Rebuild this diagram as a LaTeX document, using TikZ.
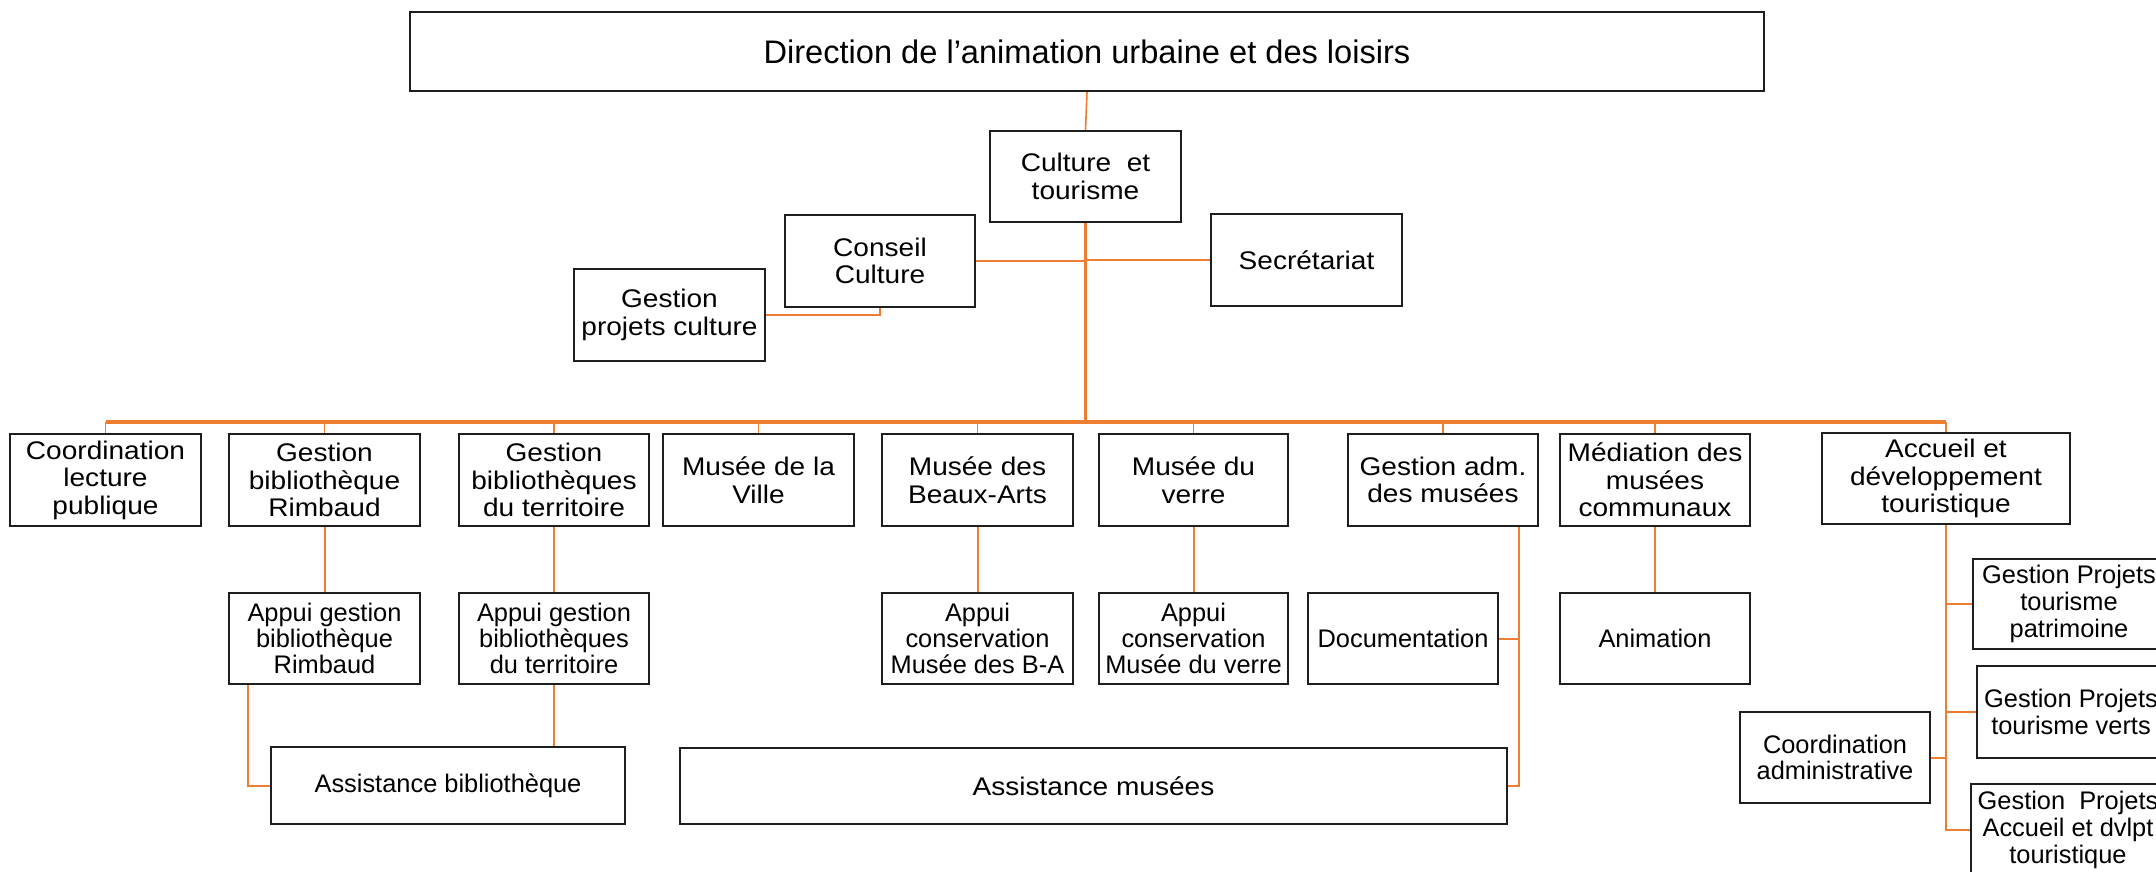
\documentclass[tikz,border=0pt]{standalone}
\usepackage{fontspec}
\setmainfont{Liberation Sans}
\newfontfamily\widefont[FakeStretch=1.1]{Liberation Sans}
\definecolor{org}{RGB}{237,125,49}
\definecolor{bord}{RGB}{30,30,30}
\begin{document}
\begin{tikzpicture}[x=1pt,y=-1pt,
  bx/.style 2 args={draw=bord, line width=2pt, fill=white, inner sep=0pt, align=center,
     minimum width=#1pt, minimum height=#2pt, font=\widefont\fontsize{25.5}{27.6}\selectfont},
  sm/.style={font=\fontsize{25.4}{26.6}\selectfont},
  smt/.style={font=\fontsize{25.4}{25.8}\selectfont},
  ttl/.style={font=\fontsize{32.6}{38}\selectfont},
  ln/.style={draw=org, line width=2pt},
  thin/.style={draw=org, line width=1.6pt},
  trunk/.style={draw=org, line width=3.5pt}]
\clip (0,0) rectangle (2156,871);
\fill[white] (0,0) rectangle (2156,871);

% top levels
\node[bx={1354}{79}, ttl] (dir) at (1087,51.5) {Direction de l’animation urbaine et des loisirs};
\node[bx={191}{91}] (cult) at (1085.5,176.5) {Culture~ et\\tourisme};
\node[bx={190}{92}] (conseil) at (880,261) {Conseil\\Culture};
\node[bx={191}{92}] (gpc) at (669.5,315) {Gestion\\projets culture};
\node[bx={191}{92}] (secr) at (1306.5,260) {Secrétariat};

% row 1
\node[bx={191}{92}] (clp) at (105.5,480) {Coordination\\lecture\\publique};
\node[bx={191}{92}] (gbr) at (324.5,480) {Gestion\\bibliothèque\\Rimbaud};
\node[bx={190}{92}] (gbt) at (554,480) {Gestion\\bibliothèques\\du territoire};
\node[bx={191}{92}] (mville) at (758.5,480) {Musée de la\\Ville};
\node[bx={191}{92}] (mba) at (977.5,480) {Musée des\\Beaux-Arts};
\node[bx={189}{92}] (mverre) at (1193.5,480) {Musée du\\verre};
\node[bx={190}{92}] (gadm) at (1443,480) {Gestion adm.\\des musées};
\node[bx={190}{92}] (med) at (1655,480) {Médiation des\\musées\\communaux};
\node[bx={248}{91}] (acc) at (1946,478.5) {Accueil et\\développement\\touristique};

% row 2
\node[bx={191}{91}, smt] (agbr) at (324.5,638.5) {Appui gestion\\bibliothèque\\Rimbaud};
\node[bx={190}{91}, smt] (agbt) at (554,638.5) {Appui gestion\\bibliothèques\\du territoire};
\node[bx={191}{91}, smt] (acba) at (977.5,638.5) {Appui\\conservation\\Musée des B-A};
\node[bx={189}{91}, smt] (acv) at (1193.5,638.5) {Appui\\conservation\\Musée du verre};
\node[bx={190}{91}, sm] (doc) at (1403,638.5) {Documentation};
\node[bx={190}{91}, sm] (anim) at (1655,638.5) {Animation};

% row 3
\node[bx={354}{77}, sm] (assbib) at (448,785.5) {Assistance bibliothèque};
\node[bx={827}{76}] (assmus) at (1093.5,786) {Assistance musées};

% tourism branch
\node[bx={192}{90}, sm] (gptp) at (2069,604) {Gestion Projets\\tourisme\\patrimoine};
\node[bx={188}{92}, sm] (gptv) at (2071,712) {Gestion Projets\\tourisme verts};
\node[bx={190}{91}, sm] (cadm) at (1835,757.5) {Coordination\\administrative};
\node[bx={194}{92}, sm] (gpad) at (2068,830) {Gestion~ Projets\\Accueil et dvlpt\\touristique};

\coordinate (bar) at (0,422);

% connectors
\draw[thin] (dir.south) -- (cult.north);
\draw[trunk] (cult.south) -- (cult.south |- bar);
\draw[ln] (conseil.east) -- (conseil.east -| cult.south);
\draw[ln] (secr.west) -- (secr.west -| cult.south);
\draw[ln] (conseil.south) |- (gpc.east);
\draw[trunk] (clp.north |- bar) -- (acc.north |- bar);
\foreach \n in {clp,gbr,gbt,mville,mba,mverre,gadm,med,acc}
  \draw[thin] (\n.north) -- (\n.north |- bar);
\draw[ln] (gbr.south) -- (agbr.north);
\draw[ln] (gbt.south) -- (agbt.north);
\draw[ln] (mba.south) -- (acba.north);
\draw[ln] (mverre.south) -- (acv.north);
\draw[ln] (med.south) -- (anim.north);
\draw[ln] ([xshift=20pt]agbr.south west) |- (assbib.west);
\draw[ln] (agbt.south) -- (agbt.south |- assbib.north);
\coordinate (gl) at ([xshift=-20pt]gadm.south east);
\draw[ln] (gl) |- (assmus.east);
\draw[ln] (doc.east) -- (doc.east -| gl);
\draw[ln] (acc.south) |- (gpad.west);
\draw[ln] (gptp.west) -- (gptp.west -| acc.south);
\draw[ln] (gptv.west) -- (gptv.west -| acc.south);
\draw[ln] (cadm.east) -- (cadm.east -| acc.south);
\end{tikzpicture}
\end{document}
